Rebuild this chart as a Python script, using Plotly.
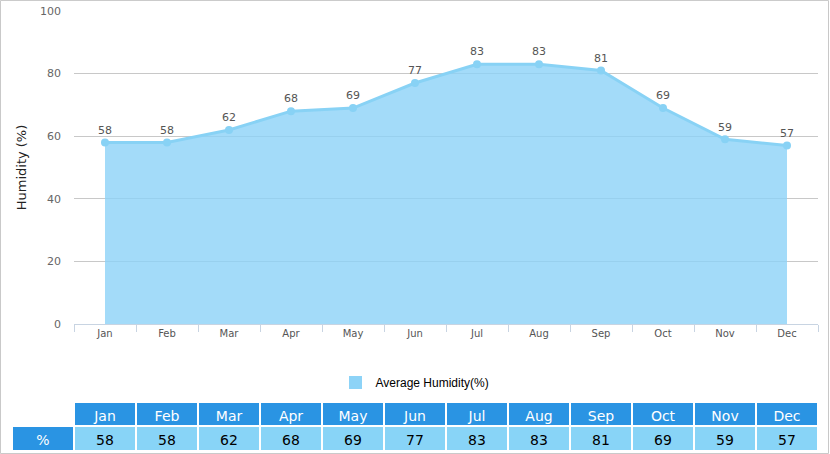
import plotly.graph_objects as go

months = ["Jan", "Feb", "Mar", "Apr", "May", "Jun", "Jul", "Aug", "Sep", "Oct", "Nov", "Dec"]
humidity = [58, 58, 62, 68, 69, 77, 83, 83, 81, 69, 59, 57]
series_name = "Average Humidity(%)"
row_label = "%"

W, H = 830, 454
ml, mr, mt, mb = 12, 12, 11, 3
pw = W - ml - mr
ph = H - mt - mb

fig = go.Figure()

fig.add_trace(go.Scatter(
    x=months, y=humidity, name=series_name, showlegend=False,
    mode="lines+markers+text",
    text=[str(v) for v in humidity],
    textposition="top center",
    textfont=dict(family="DejaVu Sans", size=11, color="#555555"),
    line=dict(color="#88d2f5", width=3),
    marker=dict(color="#88d2f5", size=8),
    fill="tozeroy", fillcolor="rgba(140,210,247,0.8)",
    cliponaxis=False,
))

# legend entry only (square swatch like the original)
fig.add_trace(go.Scatter(
    x=[None], y=[None], name=series_name, mode="markers",
    marker=dict(symbol="square", size=13, color="#8dd3f7"),
))

# table under the chart
fig.add_trace(go.Table(
    domain=dict(x=[0, 1], y=[0, (451 - 402) / ph]),
    columnwidth=[60] + [60] * len(months),
    header=dict(
        values=[""] + months,
        fill_color=["white"] + ["#2a94e3"] * len(months),
        line=dict(color="white", width=2),
        font=dict(family="DejaVu Sans", size=14, color="white"),
        align="center", height=24,
    ),
    cells=dict(
        values=[[row_label]] + [[v] for v in humidity],
        fill_color=["#2a94e3"] + ["#88d4f7"] * len(months),
        line=dict(color="white", width=2),
        font=dict(family="DejaVu Sans", size=14,
                  color=["white"] + ["black"] * len(months)),
        align="center", height=25,
    ),
))

fig.update_layout(
    width=W, height=H,
    margin=dict(l=ml, r=mr, t=mt, b=mb),
    paper_bgcolor="white", plot_bgcolor="white",
    font=dict(family="DejaVu Sans", size=11, color="#666666"),
    showlegend=True,
    legend=dict(
        orientation="h", x=0.5, xanchor="center",
        y=(451 - 368) / ph, yanchor="top",
        font=dict(family="Liberation Sans", size=12, color="black"),
    ),
    xaxis=dict(
        domain=[(74 - ml) / pw, (818 - ml) / pw],
        type="category", tickson="boundaries", range=[-0.5, 11.5],
        ticks="outside", ticklen=7, tickcolor="#c8d4e2",
        showline=True, linecolor="#c8d4e2", linewidth=1,
        showgrid=False, automargin=False,
        tickfont=dict(size=10, color="#555555"),
    ),
    yaxis=dict(
        domain=[(451 - 324) / ph, (451 - 11) / ph],
        range=[0, 100], dtick=20,
        showgrid=True, gridcolor="#c8c8c8", gridwidth=1,
        zeroline=False, showline=False, ticks="",
        ticklabelstandoff=12, automargin=False,
        layer="above traces",
        tickfont=dict(size=11, color="#666666"),
        title=dict(text="Humidity (%)", standoff=10,
                   font=dict(family="DejaVu Sans", size=13, color="#222222")),
    ),
    shapes=[dict(
        type="rect", xref="paper", yref="paper",
        x0=-ml / pw + 0.0006, x1=1 + (mr - 1.5) / pw,
        y0=-mb / ph + 0.001, y1=1 + mt / ph - 0.001,
        line=dict(color="#c8c8c8", width=1), fillcolor="rgba(0,0,0,0)",
        layer="below",
    )],
)

fig.write_html("out.html", config={"displayModeBar": False},
               post_script="document.body.style.margin='0';")
